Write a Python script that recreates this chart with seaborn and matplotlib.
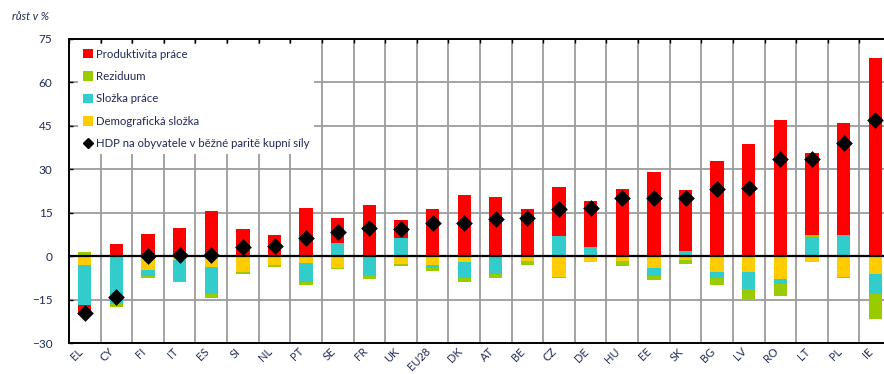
import numpy as np
import matplotlib
matplotlib.use("Agg")
import matplotlib.pyplot as plt
import seaborn as sns
from matplotlib.patches import Patch
from matplotlib.lines import Line2D

# Rozklad růstu HDP na obyvatele podle zemí (p. b.)
countries = ["EL", "CY", "FI", "IT", "ES", "SI", "NL", "PT", "SE", "FR", "UK", "EU28", "DK",
             "AT", "BE", "CZ", "DE", "HU", "EE", "SK", "BG", "LV", "RO", "LT", "PL", "IE"]
demograficka = [-3.0, 0.0, -4.8, -1.4, -3.9, -5.6, -3.1, -2.2, -4.1, 0.0, -2.8, -3.0, -2.0,
                0.0, -1.6, -7.3, -2.1, -1.8, -4.1, -1.4, -5.5, -5.6, -7.9, -2.1, -7.2, -6.1]
slozka_prace = [-14.0, -16.5, -2.0, -7.1, -9.2, 0.0, 0.0, -6.7, 4.7, -7.0, 6.2, -1.2, -5.6,
                -6.1, 0.0, 6.8, 3.0, 0.0, -2.6, 1.9, -2.2, -5.6, -1.7, 6.5, 7.4, -6.9]
reziduum = [1.3, -1.0, -0.8, -0.6, -1.4, -0.5, -0.5, -1.0, -0.5, -0.9, -0.5, -0.8, -1.4,
            -1.4, -1.5, -0.4, 0.0, -1.5, -1.7, -1.2, -2.2, -3.5, -4.3, 0.8, -0.4, -8.7]
produktivita = [-3.5, 4.2, 7.8, 9.6, 15.6, 9.5, 7.2, 16.5, 8.5, 17.7, 6.3, 16.4, 21.1,
                20.6, 16.4, 17.2, 16.2, 23.3, 28.9, 21.0, 33.0, 38.7, 47.0, 28.3, 38.5, 68.6]
hdp_pps = [-19.5, -14.0, 0.0, 0.4, 0.3, 3.0, 3.5, 6.3, 8.3, 9.6, 9.5, 11.3, 11.5,
           13.0, 13.3, 16.2, 16.7, 20.2, 20.2, 20.2, 23.2, 23.4, 33.6, 33.6, 39.0, 47.0]
y_ticks = [-30, -15, 0, 15, 30, 45, 60, 75]

labels = ["Produktivita práce", "Reziduum", "Složka práce", "Demografická složka",
          "HDP na obyvatele v běžné paritě kupní síly"]

RED, GREEN, CYAN, YELLOW = "#FF0000", "#99CC00", "#33CCCC", "#FFCC00"
NAVY = "#1F2A55"

sns.set_theme(style="white")
plt.rcParams["font.family"] = ["Lato", "DejaVu Sans"]

fig = plt.figure(figsize=(8.84, 3.74), dpi=100)
ax = fig.add_axes([69 / 884, 31 / 374, 822 / 884, 304 / 374])

# stacking order of the components (positive and negative parts stacked separately)
stack = [(demograficka, YELLOW), (slozka_prace, CYAN), (reziduum, GREEN), (produktivita, RED)]
n = len(countries)
pos_cum = np.zeros(n)
neg_cum = np.zeros(n)
layers = []
for vals, color in stack:
    v = np.asarray(vals, dtype=float)
    pos_cum = pos_cum + np.clip(v, 0, None)
    neg_cum = neg_cum + np.clip(v, None, 0)
    layers.append((np.where(v > 0, pos_cum, 0.0), np.where(v < 0, neg_cum, 0.0), color))

# draw outermost layers first so inner segments sit on top
for pos, neg, color in reversed(layers):
    for heights in (pos, neg):
        sns.barplot(x=countries, y=heights, order=countries, color=color, saturation=1,
                    width=0.42, errorbar=None, linewidth=0, ax=ax, zorder=3)

sns.stripplot(x=countries, y=hdp_pps, order=countries, jitter=False, marker="D",
              color="black", size=8.5, linewidth=0, ax=ax, zorder=6)

ax.axhline(0, color="black", lw=1.6, zorder=5)

ax.set_xlim(-0.5, n - 0.5)
ax.set_ylim(-30, 75)
ax.set_yticks(y_ticks)
ax.set_xticks(np.arange(n + 1) - 0.5, minor=True)
ax.set_axisbelow(True)
ax.grid(axis="y", which="major", color="#9C9C9C", lw=1.3)
ax.grid(axis="x", which="minor", color="#9C9C9C", lw=1.3)
ax.set_xlabel("")
ax.set_ylabel("")

for side in ["top", "left", "bottom", "right"]:
    ax.spines[side].set_color("black")
    ax.spines[side].set_linewidth(1.4)

ax.tick_params(axis="y", direction="in", length=3, width=1, color="black", left=True,
               pad=12, labelsize=8.5, labelcolor=NAVY)
ax.tick_params(axis="x", which="major", length=0, pad=2, labelsize=8, labelcolor=NAVY)
ax.tick_params(axis="x", which="minor", direction="in", length=3, width=1, color="black",
               top=True, bottom=False)
for lbl in ax.get_xticklabels():
    lbl.set_rotation(45)
    lbl.set_ha("right")
    lbl.set_rotation_mode("default")

handles = [Patch(facecolor=RED, edgecolor="none"), Patch(facecolor=GREEN, edgecolor="none"),
           Patch(facecolor=CYAN, edgecolor="none"), Patch(facecolor=YELLOW, edgecolor="none"),
           Line2D([], [], marker="D", color="black", ls="none", markersize=5)]
leg = ax.legend(handles, labels, loc="upper left", bbox_to_anchor=(0.011, 0.985),
                borderaxespad=0, frameon=True, facecolor="white", edgecolor="none",
                framealpha=1, fancybox=False, fontsize=8.2, labelcolor=NAVY,
                handlelength=0.9, handleheight=0.9, handletextpad=0.2,
                labelspacing=1.0, borderpad=0.45)
leg.set_zorder(7)

fig.text(12 / 884, 1 - 16 / 374, "růst v %", fontsize=8, style="italic", color=NAVY,
         va="center", ha="left")

fig.savefig("out.png", dpi=100)
